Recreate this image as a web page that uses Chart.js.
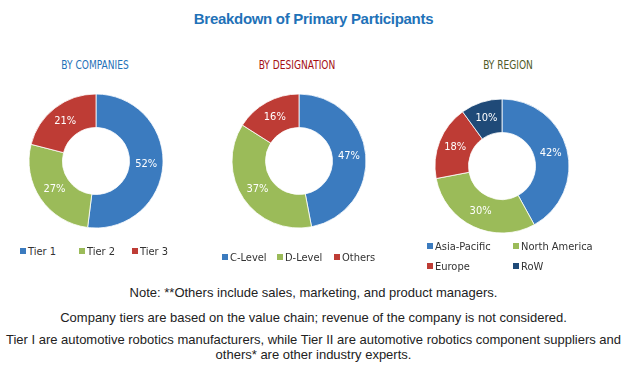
<!DOCTYPE html>
<html>
<head>
<meta charset="utf-8">
<script src="https://cdn.jsdelivr.net/npm/chart.js@4"></script>
<style>
  body { margin: 0; background: #fff; }
  #wrap { position: relative; width: 627px; height: 373px; overflow: hidden; font-family: "Liberation Sans", Arial, sans-serif; }
  .abs { position: absolute; }
  .title { left: 0; width: 627px; top: 10px; text-align: center; font-weight: bold; font-size: 15px; color: #1f72b8; letter-spacing: -0.3px; }
  .sub { font-family: "DejaVu Sans Condensed", sans-serif; font-size: 12px; width: 200px; text-align: center; transform: scaleX(0.84); }
  .leg { font-family: "DejaVu Sans Condensed", sans-serif; font-size: 11px; color: #333; white-space: nowrap; }
  .leg i { display: inline-block; width: 6px; height: 6px; margin-right: 2px; vertical-align: 1px; }
  .note { left: 0; width: 627px; text-align: center; font-size: 13px; color: #222; }
</style>
</head>
<body>
<div id="wrap">
  <div class="abs title">Breakdown of Primary Participants</div>
  <div class="abs sub" style="left:-5px; top:58px; color:#1f72b8">BY COMPANIES</div>
  <div class="abs sub" style="left:197px; top:58px; color:#a50f12">BY DESIGNATION</div>
  <div class="abs sub" style="left:408px; top:58px; color:#4f5a28">BY REGION</div>

  <canvas id="c1" class="abs" style="left:6px; top:81px"></canvas>
  <canvas id="c2" class="abs" style="left:209px; top:81px"></canvas>
  <canvas id="c3" class="abs" style="left:412px; top:86px"></canvas>

  <div id="leg1"></div>
  <div id="leg2"></div>
  <div id="leg3"></div>

  <div class="abs note" style="top:285px">Note: **Others include sales, marketing, and product managers.</div>
  <div class="abs note" style="top:310px">Company tiers are based on the value chain; revenue of the company is not considered.</div>
  <div class="abs note" style="top:332px; line-height:15px">Tier I are automotive robotics manufacturers, while Tier II are automotive robotics component suppliers and<br>others* are other industry experts.</div>
</div>
<script>
const companyLabels = ['Tier 1', 'Tier 2', 'Tier 3'];
const companyValues = [52, 27, 21];
const designationLabels = ['C-Level', 'D-Level', 'Others'];
const designationValues = [47, 37, 16];
const regionLabels = ['Asia-Pacific', 'North America', 'Europe', 'RoW'];
const regionValues = [42, 30, 18, 10];

const blue = '#3b7bbf', green = '#9bbb59', red = '#be3c35', navy = '#1f4a78';

// percent labels in the middle of each slice
const pctLabels = {
    id: 'pctLabels',
    afterDatasetsDraw(chart) {
        const ctx = chart.ctx;
        const ds = chart.data.datasets[0];
        chart.getDatasetMeta(0).data.forEach(function (arc, i) {
            const p = arc.tooltipPosition();
            ctx.save();
            ctx.fillStyle = '#fff';
            ctx.font = '11px "DejaVu Sans Condensed", sans-serif';
            ctx.textAlign = 'center';
            ctx.textBaseline = 'middle';
            ctx.fillText(ds.data[i] + '%', p.x, p.y);
            ctx.restore();
        });
    }
};

function donut(id, labels, values, colors) {
    const el = document.getElementById(id);
    el.width = 180;
    el.height = 160;
    el.style.width = '180px';
    el.style.height = '160px';
    return new Chart(el, {
        type: 'doughnut',
        plugins: [pctLabels],
        data: {
            labels: labels,
            datasets: [{
                data: values,
                backgroundColor: colors,
                borderColor: '#fff',
                borderWidth: 0.8,
                hoverOffset: 0
            }]
        },
        options: {
            responsive: false,
            animation: false,
            radius: 67,
            cutout: '50%',
            plugins: {
                legend: { display: false },
                tooltip: { enabled: false }
            }
        }
    });
}

function legend(id, labels, colors, spots) {
    const box = document.getElementById(id);
    labels.forEach(function (l, i) {
        const d = document.createElement('div');
        d.className = 'abs leg';
        d.style.left = spots[i][0] + 'px';
        d.style.top = spots[i][1] + 'px';
        d.innerHTML = '<i style="background:' + colors[i] + '"></i>' + l;
        box.appendChild(d);
    });
}

donut('c1', companyLabels, companyValues, [blue, green, red]);
donut('c2', designationLabels, designationValues, [blue, green, red]);
donut('c3', regionLabels, regionValues, [blue, green, red, navy]);

legend('leg1', companyLabels, [blue, green, red], [[20, 245], [79, 245], [132, 245]]);
legend('leg2', designationLabels, [blue, green, red], [[222, 251], [277, 251], [334, 251]]);
legend('leg3', regionLabels, [blue, green, red, navy], [[427, 240], [513, 240], [427, 260], [513, 260]]);
</script>
</body>
</html>
